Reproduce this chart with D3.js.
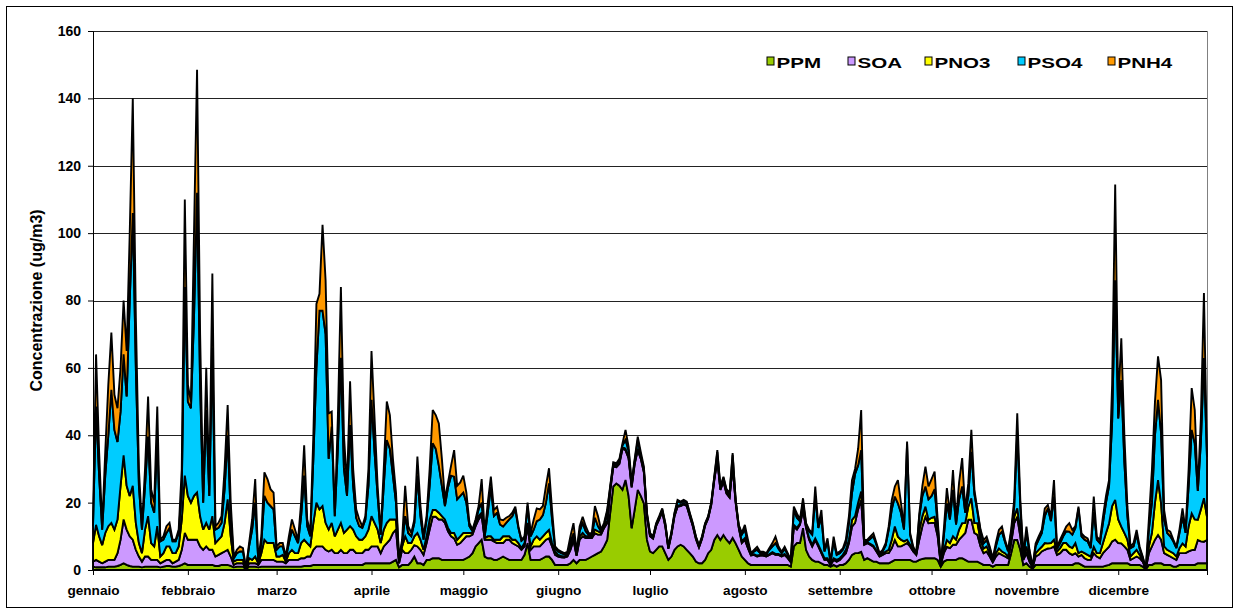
<!DOCTYPE html>
<html>
<head>
<meta charset="utf-8">
<script src="https://cdn.jsdelivr.net/npm/d3@7/dist/d3.min.js"></script>
<style>
  body { margin: 0; background: #fff; }
  text { font-family: "Liberation Sans", Arial, sans-serif; font-weight: bold; fill: #000; }
</style>
</head>
<body>
<div id="chart"></div>
<script>
// month labels and the day index where each tick sits
const months = ["gennaio", "febbraio", "marzo", "aprile", "maggio", "giugno",
  "luglio", "agosto", "settembre", "ottobre", "novembre", "dicembre"];
const monthStarts = [0, 31, 60, 91, 121, 152, 182, 213, 244, 274, 305, 335];
const yTicks = [0, 20, 40, 60, 80, 100, 120, 140, 160];

const keys = ["PPM", "SOA", "PNO3", "PSO4", "PNH4"];
const colors = ["#99cc00", "#cc99ff", "#ffff00", "#00ccff", "#ff9900"];

// daily values (ug/m3), one line per month
const ppm = [
  1,0.8,0.8,0.8,0.8,1,1,1,1.2,1.5,2,1.5,1.2,1,1,1,0.8,1,1,1,1,1,0.8,1,1.2,1.2,1,1,1.2,1.5,2,
  1.5,1.5,1.5,1.5,1.5,1.5,1.5,1.5,1.5,1.2,1.2,1.5,1.5,1.5,1.2,0.8,1,1,1,0.2,1,1,1,0.8,1,1,1,1,
  1,1,1,1,1,1,1,1,1,1,1.2,1.2,1.2,1.5,1.5,1.5,1.5,1.5,1.5,1.5,1.5,1.5,1.5,1.5,1.5,1.5,1.5,1.5,1.5,1.5,2,
  2,2,2,2,2,2,2,2,2.5,3,0.8,1.5,1.5,1.5,2.5,4,2,2,1.5,3,3,3.5,3.5,3.5,3,3,3,3,3,3,
  3,3,3.5,4,5,7,8,9,4,3.5,3.5,3,3,3.5,4,3.5,3,3,3,3,3,4.5,8,3,3,3,3,3.5,4,4,3,
  1.5,1.5,1.5,1.5,1.5,2,3,2,3,3,3,3.5,4,4.5,5,5.5,7,8.9,17,24.8,25.7,25,23.8,26.7,22,12.4,18,23.8,22,19.8,
  9,5.5,5,6,7,7,5,3,4,6,7,7.5,7,6,5,4,2.5,2,2,3,5,6,8.9,10.4,8.9,10.4,9,8,9.5,7.9,6,
  4,3,2,1.5,1.5,1.5,1.5,1.5,1.5,1.5,1.5,1.5,1.5,1.5,1.5,1.5,1,7,8,8,12.4,6,4,3,2.5,2.5,2,1.5,1.5,1,1.5,
  1,1.5,1.5,2,3,4.5,5,5,5.4,3,3.5,3,2.5,2.5,2,2,2,2,2.5,3,3,3,3,3,3,2.5,2.5,3,3.3,3.5,
  3.5,3.5,3.5,3,1,2.5,3,3,3,3,3.5,3.5,3,2.5,2.5,2.5,2.5,2,1.5,1.5,1.5,1,1.5,1.5,1.5,1.5,1.5,5,8.9,8.9,6,
  1.5,2,1,0.4,1.5,1.5,1.5,1.5,1.5,1.5,1.5,1.5,1.5,1.5,1.5,1.5,1.5,2,2,1.5,1,1,1,1,1,1,1,1.3,1.5,2,
  2,2,2,2,2,1.5,1.5,1.5,1.5,1,0.2,1.5,1.5,2,2,2,1.5,1.5,1.5,1,1,1.5,1.5,1.5,1.5,1.5,1.5,2,2,2,2
];
const soa = [
  1.5,2.2,1.7,1.2,1.7,2,2,2,3.8,7.5,13,10.5,8.8,8,5,3,1.7,3,3,2,2,2,1.2,1.5,1.8,1.8,1,1.5,1.8,4.5,9,
  7.5,7.5,7.5,7.5,5.5,4.5,5.5,4.5,4.5,2.8,3.3,3.5,4,4.5,2.8,0.7,1,1,1,0.1,1,1,1,0.7,2,2,2,2,
  2,1.5,1.5,1.5,1,2,2,2,2,2.5,2.3,2.8,2.8,4.5,5.5,5.5,5.5,4.5,4,4.5,3.5,3.5,4.5,3.5,3.5,4.5,4.5,3.5,3.5,3.5,4,
  4,5,5,5,3,5,6,7,8.5,9,1.2,4.5,3.5,3.5,3.5,3.4,5,4,3,5,9,12.3,12.3,11.5,12,11,8.5,7,6.4,4.5,
  5,6,6.5,6,5.5,6,7,7.3,5,5.5,5.5,5.5,5,4.5,4,5.5,6,5,4.5,4,3,2.5,5,3,4,4,4,4.5,5,5.4,4,
  3,2.5,2.3,2.2,2.5,4,5.9,2.2,6,7,6.5,6,5.5,6.4,5.5,5,5.5,5,6.5,5.9,4.8,6.5,12.2,8.9,11.2,12.1,13.5,11.8,11,9.2,
  7,4.5,4.3,7,8,10.3,8,3.3,6.5,10,11.8,11.5,12.5,13,11,9,6.7,4.7,7.3,10.2,10.3,13.3,17.8,22.3,14.9,15.8,13.7,13.5,21.2,12,6.6,
  4,6,4.5,2.8,3,2.5,2.8,2.8,2.5,3,3.5,3,3,2.5,3,2,1.3,5.9,4,5.5,5.4,6.5,5,4,6.4,4.5,3,1.5,1.5,0.5,1.5,
  1.5,1.5,2.5,3,5,8.4,9,13,15.4,4.5,4.5,4.5,4.4,3,2,2.5,3,3,4,5.9,4,4,4.5,5,4,3,2,6,9.7,12.3,
  10.4,10.5,10.5,7,0.6,2.5,3.9,3.5,4.5,4.5,5.5,6.5,8,12.4,12.4,8.5,7.9,5,3.5,4,2.5,1.3,2.5,3.5,3,2.5,2,3,5,6.9,4,
  1.5,3,1.5,0.3,2.5,3,4,4.5,4.9,5,5.5,3,3.5,4.5,4.5,3.5,3,3,2,3,2.5,2,2,4,3,2.5,4,4.7,5.4,6.5,
  7,6,5.9,5,4,1.5,2,2.5,2,1.5,0.1,3.5,5.5,7,8.4,7,3.5,3,2.5,2.5,2,3.5,3.5,3.5,4,4.4,4.5,6.9,6.5,6.4,6.9
];
const pno3 = [
  5.5,10.4,7.5,5.4,8.5,10,11,9,10,16,19,13,12,16,8,4,2.5,8,12,5,4,10,2,2.5,4,4,3,2.5,4,9,17,
  13,11,13,14,9,6,7,6,10,4,4.5,5,8.5,15,6,1,1,1,1,0.1,1.5,1,2,0.5,2,6,5,5,
  5,1.5,1.5,2,0.5,2,3,2,2,4.5,5.5,4,3,8,13,11,12,8,6.5,8,5,7,8,6,7,7,6,5,4,4,4,
  6,9,7,5,3,5,6,6,4,3,0.5,1,5,3,2,2.6,4,3,1.5,2,3,2,2,2,1,1,1,1,1.6,1.5,
  2,2,1,1,0.5,1,1,0.7,0.5,1,1,0.5,1,1,2,1,1,1,1.5,1,0.5,1,1,1,2,3,2,2,2,2.5,1,
  1,0.5,0.4,0.3,0.5,0.5,0.6,0.3,1,1,0.5,0.5,0.5,1.1,1,0.5,0.5,0.6,0.5,0.3,0.5,0.5,0.5,0.4,0.3,0.5,0.5,0.4,0.5,0.5,
  0.3,0.3,0.2,0.3,0.3,0.3,0.3,0.2,0.3,0.3,0.3,0.3,0.3,0.3,0.3,0.3,0.3,0.2,0.2,0.2,0.2,0.2,0.3,0.3,0.3,0.3,0.3,0.3,0.3,0.3,0.2,
  0.5,0.5,0.3,0.2,0.2,0.3,0.2,0.2,0.2,0.2,0.3,0.3,0.3,0.3,0.3,0.3,0.2,0.5,0.5,0.3,0.4,0.3,0.5,0.5,0.5,0.5,0.5,0.5,0.5,0.3,0.5,
  0.5,0.5,0.5,1,1,2,2,2,2.5,0.3,0.2,0.3,0.3,0.3,0.2,0.3,0.5,1,2.5,4,2.9,2,1,1,0.5,0.3,0.1,2.9,3,3,
  1,1.5,1.8,1,0.1,1,2,1.5,2.5,1.5,3,3.9,3,3.9,6.4,2.9,3.5,2,1.4,1.5,1,0.4,1,1.4,1,1,0.5,1,1.9,2.5,2,
  0.5,2,1,0.1,1,1.5,1.4,2,1.5,1.5,2,1,1.5,2,2,2,2,3,1,1,1.5,1.5,1,1.9,1,1.5,3,5,7,10.5,
  11.8,7,5,4,3,1,1.5,2,1,0.5,0.1,2,4,11,16.3,10.8,2,1.5,1.5,1.5,1,1.5,2.9,2,7.5,10.9,9,6,9.5,12.9,6.9
];
const pso4 = [
  5,35.1,18,4.6,17,27,39.5,29.6,23,22,30,26.5,58,81,46,17,7,13,23.6,12,10,26.6,4.5,4,4,5.5,3.5,3.5,4,9,56,
  28,28,53,89,39,8,33.5,10,50,4,3.5,4,10,19,6,1,2,2.5,2.5,0.05,3.5,9,16,0.8,3,13,12,11,
  10,2,3,2.5,1,3,6,5,3,8,19,5,3,19,40,59,58,56,21,28.6,6,24,49,19,10,30,13,5.5,4,3.5,5,
  13,34.5,21,10,2.5,13,24.6,21,13,5,0.8,1,6,3,2,4,17,7,3,5,10,19.8,18.2,14,9,4,12,17,16.7,12,
  12,12,9,2,0.5,0.5,2,3,0.5,7,14.7,7,8,4.5,2.9,4,5,7,9,4.5,2.2,1.5,5,3,3,4.5,6,6.3,9,13.8,7,
  1,1,0.8,0.7,0.5,1.5,1.4,0.7,1.5,2.9,1.5,0.4,0.5,3.5,1.5,0.5,0.5,2.7,0.5,0.5,0.2,0.5,0.5,2.6,2,0.5,0.5,2.6,0.5,0.5,
  0.4,0.4,0.3,0.3,0.4,0.4,0.4,0.3,0.3,0.4,1.2,0.7,0.7,0.7,0.4,0.3,0.3,0.3,0.3,0.3,0.3,0.3,0.4,2,0.4,0.9,0.7,0.7,3.2,0.4,0.4,
  2,2.5,1.2,0.3,0.8,1.7,0.5,0.5,0.5,1.3,1.7,3.2,1.5,0.7,1.4,0.9,0.3,4.4,3,0.7,2,0.8,2,3,12.4,5,10.3,2,5,0.5,5,
  1.5,1.5,1.5,2,5,7.9,12.5,11,12.3,0.5,0.3,1.5,2.8,1.7,0.5,0.7,1.8,6,9,8.9,9.9,8,3.5,28.5,3,0.7,0.1,4.1,6,6,
  6.1,6.5,8.2,2.5,0.2,4,10.9,7,13.8,4.5,9,10.9,3,3.2,13.8,8.6,3.4,2.5,1.5,1.9,1.5,0.5,2,4,5.9,3.3,1.6,2,3,22.3,7,
  0.7,4,2,0.1,2,3,4,8,10.4,6.5,12.8,0.9,1.5,2,3.5,4.4,4,4.5,13.3,4.5,4,4,2.5,10.4,4,3,6,9,11.1,25,
  65.2,30,43.5,21,7,2.5,2,4.5,1.8,0.7,0.05,5,9,20,23.8,20.8,8,5,4.5,3.5,2.5,4.5,7.9,4,12,24.8,22.6,8.6,20,41.6,17.7
];
const pnh4 = [
  2,15.5,7,1,7,15,17,10.4,10,13,16,13.5,20,34,15,5,1,5,11.9,4,3,8.9,0.5,1,2,1.5,0.5,0.5,1,6,26,
  5,2,25,36.5,15,2,12.5,3,22,1,1.5,2,6,9,4,0.5,1,1.5,1,0.05,1,3,7,0.2,2,7,7,5,
  5,1,1,1,0.5,2,3,2,1,4,9,2,1,7,19,5,25.5,16,13.5,4.4,0,9,21,10,3,13,5,2.5,2,0.5,1,
  5,14.5,10,3,0.5,5,11.4,10,5,3,0.2,1,9,2,1,1,5.7,3,1,1,5,9.9,10,12.5,8,2,1.5,3,7.9,4,
  4,5,3,1,0.5,0.5,1,7,1,3,3,1.8,1.8,1.5,1.9,1.5,1,1,0.8,0.5,0.3,0.5,1,1,3,3.8,3,2.7,5,4.5,2.8,
  0.5,0.5,0.5,0.3,0.4,2,3,0.3,1.4,1.9,1.5,0.5,0.5,3.5,3,0.5,0.5,0.6,0.5,0.5,0.5,0.5,0.6,3,1.1,0.5,0.5,1,1,0.7,
  0.3,0.3,0.2,0.3,0.3,0.3,0.3,0.2,0.3,0.3,0.5,0.3,0.3,0.3,0.3,0.3,0.2,0.2,0.2,0.2,0.2,0.2,0.3,0.6,0.3,0.3,0.3,0.3,0.5,0.2,0.2,
  0.5,1.4,1,0.2,0.5,0.9,0.4,0.4,0.3,0.5,1,1.9,0.7,0.4,0.7,0.3,0.2,1,1.3,0.5,1.1,0.3,0.5,0.5,3,0.5,2,0.5,0.9,0.2,1.4,
  0.5,0.5,0.4,1,2,3.9,1.5,5,11.9,0.6,0.5,0.7,0.9,0.5,0.3,0.5,0.7,1,2.8,3,6.9,3,0.9,0.6,0.4,0.5,0.3,0.8,3,5.9,
  3.8,5,5.2,1.4,0.1,2,4.5,1.8,5.9,1.5,5,8.4,0.8,3.7,6.5,1.3,0.5,0.5,1,1,0.5,0.3,1,1.5,1.5,0.7,0.4,1,2,5.9,1.8,
  0.3,1.9,0.5,0.1,0.9,1,1,2.3,1,1.3,4.9,0.5,1,0.9,1.4,2.5,1.4,0.5,0.5,0.9,0.9,0.9,0.4,4.5,0.9,0.9,1.8,2,1.7,11,
  28.4,5,12.4,8,2.8,0.5,1,1.4,0.6,0.3,0.05,3,9.7,10,12.9,15.8,2.8,0.9,1.4,0.5,0.4,1,2.5,0.9,5,12.4,9.9,0.3,7,19.3,0.2
];

const width = 1239;
const height = 613;
const margin = { top: 31, right: 32, bottom: 43, left: 93 };

const svg = d3.select("#chart").append("svg")
  .attr("width", width)
  .attr("height", height);

// outer chart frame
svg.append("rect")
  .attr("x", 6.5).attr("y", 6.5)
  .attr("width", width - 13).attr("height", height - 12)
  .attr("fill", "#fff")
  .attr("stroke", "#000")
  .attr("stroke-width", 1);

const data = ppm.map((v, i) => ({
  day: i,
  PPM: v,
  SOA: soa[i],
  PNO3: pno3[i],
  PSO4: pso4[i],
  PNH4: pnh4[i]
}));

const x = d3.scaleLinear()
  .domain([0, data.length - 1])
  .range([margin.left, width - margin.right]);

const y = d3.scaleLinear()
  .domain([0, 160])
  .range([height - margin.bottom, margin.top]);

const color = d3.scaleOrdinal().domain(keys).range(colors);

// gridlines
svg.append("g")
  .selectAll("line")
  .data(yTicks.filter(d => d > 0))
  .join("line")
  .attr("x1", margin.left)
  .attr("x2", width - margin.right)
  .attr("y1", d => Math.round(y(d)) + 0.5)
  .attr("y2", d => Math.round(y(d)) + 0.5)
  .attr("stroke", "#222")
  .attr("stroke-width", 1);

// plot area border on the right
svg.append("line")
  .attr("x1", width - margin.right + 0.5)
  .attr("x2", width - margin.right + 0.5)
  .attr("y1", margin.top)
  .attr("y2", height - margin.bottom)
  .attr("stroke", "#808080");

const series = d3.stack().keys(keys)(data);

const area = d3.area()
  .x(d => x(d.data.day))
  .y0(d => y(d[0]))
  .y1(d => y(d[1]));

svg.append("g")
  .selectAll("path")
  .data(series)
  .join("path")
  .attr("fill", d => color(d.key))
  .attr("stroke", "#000")
  .attr("stroke-width", 1.9)
  .attr("stroke-linejoin", "miter")
  .attr("stroke-miterlimit", 3)
  .attr("d", area);

// axes
const yAxis = svg.append("g")
  .attr("transform", `translate(${margin.left},0)`)
  .call(d3.axisLeft(y).tickValues(yTicks).tickSize(5).tickPadding(7));
yAxis.select(".domain").attr("stroke", "#000");
yAxis.selectAll("text").style("font-size", "14px");

const xAxis = svg.append("g")
  .attr("transform", `translate(0,${height - margin.bottom})`)
  .call(d3.axisBottom(x).tickValues(monthStarts).tickSize(5).tickPadding(10)
    .tickFormat((d, i) => months[i]));
xAxis.select(".domain").attr("stroke", "#000");
xAxis.selectAll("text").style("font-size", "13.6px");

// y axis title
svg.append("text")
  .attr("transform", `translate(42,${(margin.top + height - margin.bottom) / 2}) rotate(-90)`)
  .attr("text-anchor", "middle")
  .style("font-size", "16px")
  .text("Concentrazione (ug/m3)");

// legend (the labels are drawn wide, as in the original)
const legendX = [767, 848, 925, 1018, 1108];
const legend = svg.append("g");
keys.forEach((k, i) => {
  const g = legend.append("g")
    .attr("transform", `translate(${legendX[i]},57)`);
  g.append("rect")
    .attr("width", 7)
    .attr("height", 8)
    .attr("fill", color(k))
    .attr("stroke", "#000")
    .attr("stroke-width", 1);
  g.append("text")
    .attr("transform", "translate(9.5,10.5) scale(1.37,1)")
    .style("font-size", "15px")
    .text(k);
});
</script>
</body>
</html>
